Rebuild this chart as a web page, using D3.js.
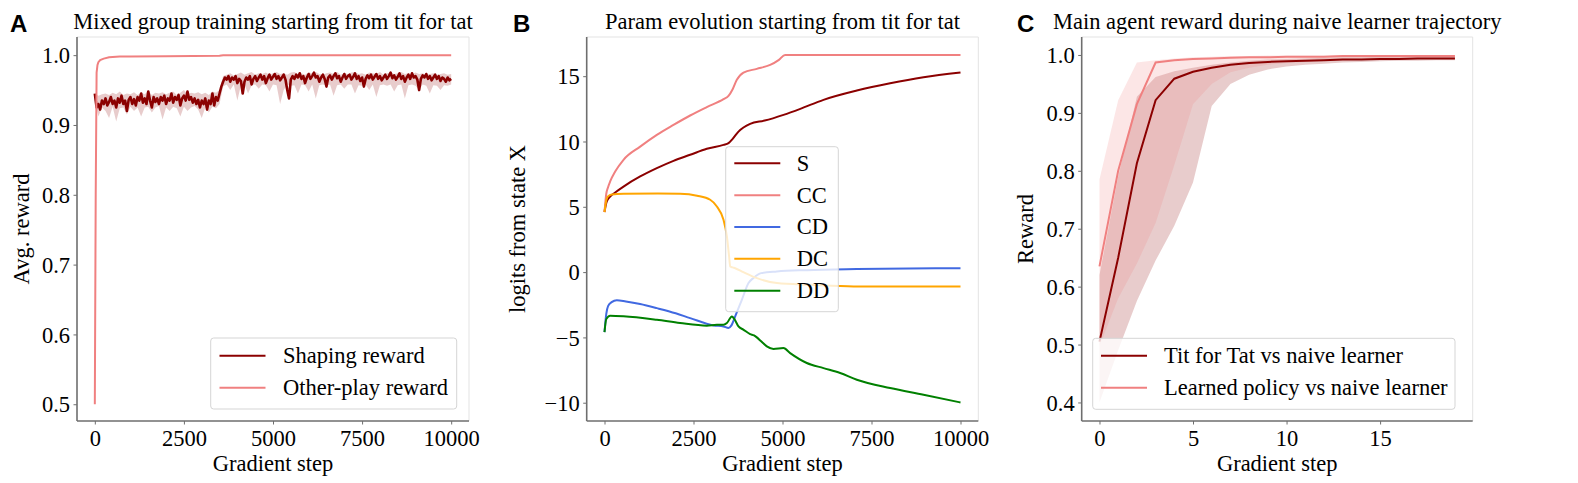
<!DOCTYPE html>
<html><head><meta charset="utf-8">
<script src="https://cdn.jsdelivr.net/npm/d3@7"></script>
<style>
html,body{margin:0;padding:0;background:#fff;}
</style></head>
<body><svg id="c" width="1578" height="483"></svg>
<script>
// ---------------- DATA ----------------
// Panel A
const shapingMean = [
0.945,0.925,0.930,0.922,0.935,0.930,0.938,0.928,0.933,0.940,
0.930,0.935,0.925,0.938,0.932,0.942,0.930,0.935,0.920,0.936,
0.940,0.930,0.937,0.928,0.940,0.935,0.945,0.932,0.938,0.930,
0.948,0.935,0.925,0.940,0.933,0.938,0.930,0.940,0.935,0.942,
0.930,0.938,0.935,0.945,0.932,0.940,0.936,0.943,0.928,0.938,
0.942,0.935,0.948,0.936,0.940,0.932,0.938,0.930,0.936,0.925,
0.935,0.930,0.938,0.922,0.935,0.930,0.945,0.928,0.940,0.935,
0.945,0.955,0.962,0.968,
0.965,0.970,0.962,0.968,0.965,0.970,0.960,0.966,0.963,0.945,
0.962,0.968,0.965,0.970,0.958,0.966,0.970,0.963,0.968,0.972,
0.965,0.970,0.960,0.967,0.972,0.965,0.969,0.973,0.966,0.970,
0.964,0.968,0.972,0.965,0.950,0.938,0.965,0.970,0.966,0.972,
0.968,0.974,0.966,0.970,0.960,0.968,0.973,0.966,0.970,0.975,
0.968,0.970,0.962,0.968,0.972,0.966,0.955,0.968,0.971,0.965,
0.970,0.974,0.967,0.970,0.962,0.968,0.973,0.966,0.970,0.972,
0.965,0.969,0.974,0.966,0.970,0.963,0.968,0.955,0.966,0.971,
0.967,0.972,0.965,0.969,0.973,0.966,0.970,0.964,0.968,0.972,
0.966,0.970,0.975,0.967,0.971,0.965,0.969,0.974,0.966,0.970,
0.962,0.968,0.972,0.966,0.974,0.968,0.970,0.965,0.950,0.966,
0.971,0.968,0.973,0.966,0.970,0.964,0.968,0.972,0.966,0.970,
0.963,0.968,0.966,0.962,0.968,0.964,0.966];
const shapingLow = [
0.935,0.912,0.925,0.920,0.910,0.926,0.905,0.924,0.925,0.915,
0.926,0.920,0.925,0.912,0.925,0.926,0.918,0.925,0.927,0.908,
0.925,0.920,0.926,0.924,0.912,0.926,0.920,0.925,0.927,0.922,
0.910,0.925,0.918,0.926,0.924,0.930,
0.955,0.958,0.950,0.958,0.935,0.957,0.958,0.945,0.957,0.958,
0.952,0.958,0.957,0.948,0.958,0.957,0.930,0.950,0.958,0.956,
0.957,0.945,0.958,0.957,0.948,0.958,0.938,0.957,0.958,0.956,
0.958,0.942,0.957,0.958,0.952,0.958,0.958,0.945,0.957,0.956,
0.958,0.950,0.958,0.940,0.957,0.958,0.956,0.958,0.948,0.957,
0.958,0.938,0.957,0.958,0.956,0.950,0.958,0.956,0.945,0.957,
0.956,0.950,0.957,0.956,0.958];
const shapingHigh = [
0.945,0.942,0.944,0.945,0.943,0.946,0.944,0.948,0.943,0.945,
0.944,0.947,0.943,0.946,0.944,0.949,0.943,0.946,0.945,0.947,
0.944,0.946,0.948,0.943,0.946,0.950,0.944,0.946,0.945,0.947,
0.944,0.946,0.943,0.948,0.946,0.950,
0.970,0.972,0.974,0.971,0.973,0.975,0.972,0.974,0.976,0.972,
0.974,0.973,0.975,0.972,0.974,0.976,0.973,0.974,0.972,0.975,
0.976,0.973,0.974,0.972,0.975,0.974,0.976,0.973,0.972,0.974,
0.975,0.973,0.976,0.972,0.974,0.973,0.975,0.976,0.973,0.974,
0.972,0.975,0.974,0.973,0.976,0.972,0.974,0.975,0.973,0.974,
0.976,0.973,0.974,0.972,0.975,0.973,0.974,0.972,0.973,0.974,
0.972,0.973,0.974,0.972,0.973];
const otherSteps = [0,25,50,75,100,150,250,400,700,1000,2000,3500,3600,10000];
const otherVals  = [0.5,0.80,0.975,0.986,0.990,0.993,0.995,0.997,0.998,0.998,0.9985,0.999,1.0,1.0];
const ticksA_y = [0.5,0.6,0.7,0.8,0.9,1.0];
const ticksStep = [0,2500,5000,7500,10000];

// Panel B
const sSteps  = [0,50,100,159,300,534,1002,1470,1938,2406,2874,3343,3483,3600,3764,4091,4500,5028,5500,6152,7088,8024,8961,10000];
const sVals   = [4.6,5.3,5.6,5.79,6.1,6.55,7.32,7.96,8.52,8.98,9.44,9.74,9.87,10.2,10.76,11.35,11.6,12.04,12.5,13.19,13.9,14.46,14.92,15.28];
const ccSteps = [0,50,100,159,300,534,1002,1470,1938,2406,2874,3343,3483,3600,3717,3904,4278,4653,4900,5074,10000];
const ccVals  = [4.6,6.0,6.5,6.94,7.7,8.6,9.61,10.51,11.27,11.99,12.63,13.24,13.49,14.0,14.72,15.28,15.56,15.86,16.25,16.63,16.63];
const cdSteps = [0,50,100,200,346,600,1000,1470,2000,2406,3062,3343,3483,3560,3671,3858,4045,4185,4400,4843,5683,7088,10000];
const cdVals  = [-4.6,-3.2,-2.6,-2.3,-2.15,-2.25,-2.45,-2.76,-3.15,-3.52,-4.08,-4.16,-4.28,-4.1,-3.39,-2.12,-0.84,-0.45,-0.08,0.05,0.15,0.23,0.3];
const dcSteps = [0,50,100,200,534,1500,2123,2600,2969,3157,3343,3438,3500,3531,3600,3671,3900,4281,4843,5778,7000,10000];
const dcVals  = [4.6,5.5,5.8,5.95,6.0,6.02,6.0,5.85,5.54,5.02,4.0,2.73,1.2,0.43,0.36,0.3,0.0,-0.46,-0.84,-0.97,-1.1,-1.1];
const ddSteps = [0,50,159,534,1470,2123,2874,3157,3343,3438,3579,3650,3764,3900,4091,4200,4278,4400,4560,4747,5028,5215,5683,6152,6620,7088,8024,8961,10000];
const ddVals  = [-4.6,-3.6,-3.34,-3.38,-3.65,-3.9,-4.1,-4.03,-4.03,-3.9,-3.39,-3.6,-4.16,-4.4,-4.75,-4.85,-5.0,-5.3,-5.69,-5.89,-5.82,-6.2,-6.96,-7.35,-7.73,-8.24,-8.88,-9.39,-9.98];
const ticksB_y = [-10,-5,0,5,10,15];
const seriesB = ["S","CC","CD","DC","DD"];

// Panel C
const stepsC = [0,1,2,3,4,5,6,7,8,9,10,11,12,13,14,15,16,17,18,19];
const tftMean = [0.505,0.65,0.813,0.922,0.959,0.971,0.978,0.983,0.986,0.988,0.989,0.990,0.991,0.992,0.992,0.993,0.993,0.994,0.994,0.994];
const tftLow  = [0.40,0.49,0.575,0.645,0.705,0.78,0.912,0.95,0.966,0.975,0.980,0.983,0.985,0.987,0.988,0.989,0.990,0.990,0.991,0.991];
const tftHigh = [0.62,0.79,0.928,0.962,0.972,0.978,0.983,0.987,0.990,0.992,0.993,0.994,0.995,0.996,0.996,0.997,0.997,0.997,0.997,0.997];
const lrnMean = [0.635,0.80,0.915,0.987,0.991,0.993,0.994,0.995,0.996,0.996,0.997,0.997,0.997,0.998,0.998,0.998,0.998,0.998,0.998,0.998];
const lrnLow  = [0.497,0.58,0.64,0.71,0.81,0.915,0.95,0.97,0.978,0.983,0.986,0.988,0.990,0.991,0.992,0.993,0.993,0.994,0.994,0.994];
const lrnHigh = [0.785,0.922,0.987,0.991,0.994,0.996,0.997,0.998,0.998,0.999,0.999,0.999,0.999,1.0,1.0,1.0,1.0,1.0,1.0,1.0];
const ticksC_y = [0.4,0.5,0.6,0.7,0.8,0.9,1.0];
const ticksC_x = [0,5,10,15];

// ---------------- DRAW ----------------
const svg = d3.select("#c");
const COL = {darkred:"#8b0000", coral:"#f08080", blue:"#4169e1", orange:"#ffa500", green:"#008000"};
const FS = 22.5;
const SERIF = "'Liberation Serif','Times New Roman',serif";

function txt(sel){ return sel.style("font-family",SERIF).style("font-size",FS+"px").attr("fill","#000"); }

function panel(opt){
  const g = svg.append("g");
  const x = d3.scaleLinear().domain(opt.xd).range([opt.x0,opt.x1]);
  const y = d3.scaleLinear().domain(opt.yd).range([opt.y1,opt.y0]);
  const clip = "clip"+opt.letter;
  svg.append("clipPath").attr("id",clip).append("rect")
    .attr("x",opt.x0).attr("y",opt.y0).attr("width",opt.x1-opt.x0).attr("height",opt.y1-opt.y0);
  const plot = g.append("g").attr("clip-path",`url(#${clip})`);
  g.append("line").attr("x1",opt.x0).attr("x2",opt.x1).attr("y1",opt.y0).attr("y2",opt.y0).attr("stroke","#e3e3e3").attr("stroke-width",1);
  g.append("line").attr("x1",opt.x1).attr("x2",opt.x1).attr("y1",opt.y0).attr("y2",opt.y1).attr("stroke","#e3e3e3").attr("stroke-width",1);
  const ax = g.append("g").attr("transform",`translate(0,${opt.y1})`)
    .call(d3.axisBottom(x).tickValues(opt.xt).tickSize(3.5).tickPadding(3.5).tickFormat(d=>d3.format("d")(d)));
  const ay = g.append("g").attr("transform",`translate(${opt.x0},0)`)
    .call(d3.axisLeft(y).tickValues(opt.yt).tickSize(3.5).tickPadding(3.5).tickFormat(opt.yf));
  [ax,ay].forEach(a=>{
    a.select(".domain").attr("stroke","#6e6e6e").attr("stroke-width",1.6);
    a.selectAll(".tick line").attr("stroke","#6e6e6e").attr("stroke-width",1);
    txt(a.selectAll(".tick text"));
  });
  ax.selectAll(".tick text").attr("dy","0.78em");
  ay.selectAll(".tick text").attr("dy","0.34em");
  ax.select(".domain").attr("d",`M${opt.x0},0H${opt.x1}`);
  ay.select(".domain").attr("d",`M0,${opt.y0}V${opt.y1}`);
  const cx = (opt.x0+opt.x1)/2, cy=(opt.y0+opt.y1)/2;
  txt(g.append("text").attr("x",cx).attr("y",29).attr("text-anchor","middle")).text(opt.title);
  txt(g.append("text").attr("x",cx).attr("y",471).attr("text-anchor","middle")).text("Gradient step");
  txt(g.append("text").attr("transform",`translate(${opt.ylx},${cy}) rotate(-90)`).attr("text-anchor","middle")).text(opt.ylabel);
  g.append("text").attr("x",opt.lx).attr("y",32).style("font-family","'Liberation Sans',Arial,sans-serif")
    .style("font-weight","bold").style("font-size","24px").attr("fill","#000").text(opt.letter);
  return {g,plot,x,y};
}
function legend(g, box, items){
  g.append("rect").attr("x",box.x).attr("y",box.y).attr("width",box.w).attr("height",box.h)
    .attr("rx",3).attr("fill","#fff").attr("fill-opacity",0.8).attr("stroke","#d5d5d5").attr("stroke-width",1);
  items.forEach((it,i)=>{
    const yy = box.first + i*box.gap;
    g.append("line").attr("x1",box.lx).attr("x2",box.lx+46).attr("y1",yy).attr("y2",yy).attr("stroke",it.c).attr("stroke-width",2);
    txt(g.append("text").attr("x",box.tx).attr("y",yy).attr("dy","0.33em")).text(it.t);
  });
}

// Panel A
{
  const P = panel({letter:"A",lx:10,x0:77,x1:469,y0:37,y1:421,xd:[-500,10500],yd:[0.476,1.026],
    xt:ticksStep,yt:ticksA_y,yf:d3.format(".1f"),title:"Mixed group training starting from tit for tat",
    ylabel:"Avg. reward",ylx:29});
  const stepM = 10000/(shapingMean.length-1);
  const stepB = 10000/(shapingLow.length-1);
  P.plot.append("path").datum(shapingLow.map((v,i)=>[i*stepB,v,shapingHigh[i]]))
    .attr("d",d3.area().x(d=>P.x(d[0])).y0(d=>P.y(d[1])).y1(d=>P.y(d[2])))
    .attr("fill",COL.darkred).attr("fill-opacity",0.2);
  P.plot.append("path").datum(shapingMean.map((v,i)=>[i*stepM,v]))
    .attr("d",d3.line().x(d=>P.x(d[0])).y(d=>P.y(d[1])))
    .attr("fill","none").attr("stroke",COL.darkred).attr("stroke-width",2.6).attr("stroke-linejoin","round");
  P.plot.append("path").datum(otherSteps.map((s,i)=>[s,otherVals[i]]))
    .attr("d",d3.line().x(d=>P.x(d[0])).y(d=>P.y(d[1])))
    .attr("fill","none").attr("stroke",COL.coral).attr("stroke-width",2);
  legend(P.g,{x:210.7,y:338,w:246,h:71,first:355.7,gap:32,lx:219.5,tx:283},
    [{t:"Shaping reward",c:COL.darkred},{t:"Other-play reward",c:COL.coral}]);
}
// Panel B
{
  const P = panel({letter:"B",lx:513,x0:586.7,x1:978.3,y0:37,y1:421,xd:[-500,10500],yd:[-11.4,18.0],
    xt:ticksStep,yt:ticksB_y,yf:d=>d<0?"\u2212"+Math.abs(d):String(d),title:"Param evolution starting from tit for tat",
    ylabel:"logits from state X",ylx:525});
  const series = [[sSteps,sVals,COL.darkred],[ccSteps,ccVals,COL.coral],[cdSteps,cdVals,COL.blue],[dcSteps,dcVals,COL.orange],[ddSteps,ddVals,COL.green]];
  const line = d3.line().x(d=>P.x(d[0])).y(d=>P.y(d[1])).curve(d3.curveMonotoneX);
  series.forEach(([st,vs,c])=>{
    P.plot.append("path").datum(st.map((s,i)=>[s,vs[i]])).attr("d",line)
      .attr("fill","none").attr("stroke",c).attr("stroke-width",2);
  });
  legend(P.g,{x:725.7,y:146.7,w:112.6,h:165,first:163.3,gap:31.85,lx:734.3,tx:796.7},
    seriesB.map((t,i)=>({t,c:series[i][2]})));
}
// Panel C
{
  const P = panel({letter:"C",lx:1017,x0:1081.7,x1:1472.7,y0:37,y1:421,xd:[-0.95,19.95],yd:[0.368,1.031],
    xt:ticksC_x,yt:ticksC_y,yf:d3.format(".1f"),title:"Main agent reward during naive learner trajectory",
    ylabel:"Reward",ylx:1033});
  const area = d3.area().x(d=>P.x(d[0])).y0(d=>P.y(d[1])).y1(d=>P.y(d[2]));
  const line = d3.line().x(d=>P.x(d[0])).y(d=>P.y(d[1]));
  P.plot.append("path").datum(stepsC.map((s,i)=>[s,tftLow[i],tftHigh[i]])).attr("d",area)
    .attr("fill",COL.darkred).attr("fill-opacity",0.2);
  P.plot.append("path").datum(stepsC.map((s,i)=>[s,lrnLow[i],lrnHigh[i]])).attr("d",area)
    .attr("fill",COL.coral).attr("fill-opacity",0.2);
  P.plot.append("path").datum(stepsC.map((s,i)=>[s,tftMean[i]])).attr("d",line)
    .attr("fill","none").attr("stroke",COL.darkred).attr("stroke-width",2);
  P.plot.append("path").datum(stepsC.map((s,i)=>[s,lrnMean[i]])).attr("d",line)
    .attr("fill","none").attr("stroke",COL.coral).attr("stroke-width",2);
  legend(P.g,{x:1092.7,y:338.3,w:362.3,h:71,first:355.7,gap:32,lx:1101,tx:1164},
    [{t:"Tit for Tat vs naive learner",c:COL.darkred},{t:"Learned policy vs naive learner",c:COL.coral}]);
}
</script></body></html>
